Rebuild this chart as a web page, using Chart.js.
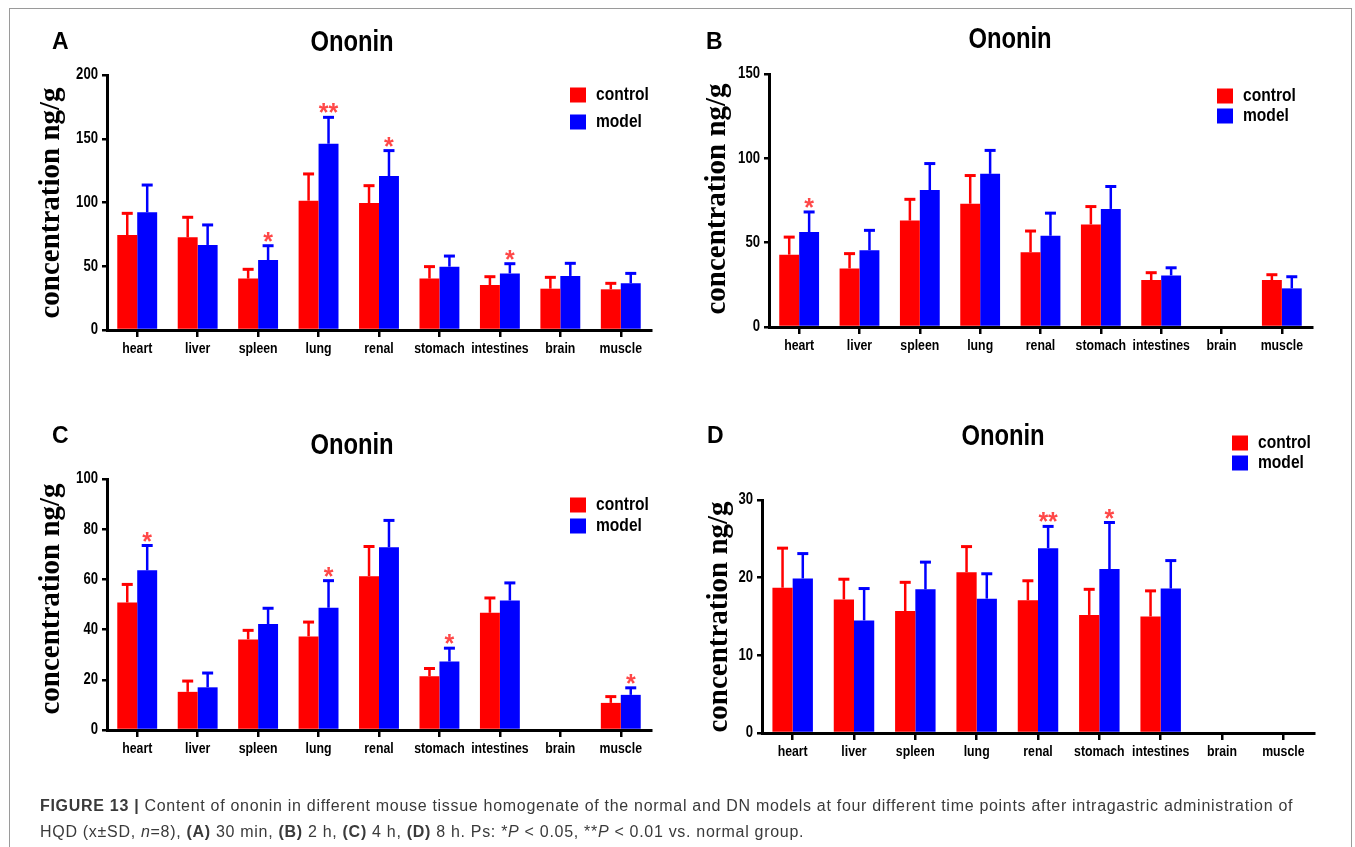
<!DOCTYPE html>
<html>
<head>
<meta charset="utf-8">
<script src="https://cdn.jsdelivr.net/npm/chart.js@4.4.1/dist/chart.umd.min.js"></script>
<style>
  body { margin: 0; background: #fff; }
  #wrap { position: relative; width: 1355px; height: 847px; overflow: hidden; background: #fff; }
  canvas { position: absolute; left: 0; top: 0; }
  #frame { position: absolute; left: 9px; top: 8px; width: 1341px; height: 900px; border: 1px solid #9a9a9a; }
  #caption { position: absolute; left: 40px; top: 793px; width: 1300px; font: 16px 'Liberation Sans', Arial, sans-serif; letter-spacing: 0.7px; color: #3a3a3a; line-height: 26px; white-space: nowrap; }
</style>
</head>
<body>
<div id="wrap">
  <div id="frame"></div>
  <canvas id="chartA" width="1355" height="847"></canvas>
  <canvas id="chartB" width="1355" height="847"></canvas>
  <canvas id="chartC" width="1355" height="847"></canvas>
  <canvas id="chartD" width="1355" height="847"></canvas>
  <div id="caption"><b>FIGURE 13 |</b> Content of ononin in different mouse tissue homogenate of the normal and DN models at four different time points after intragastric administration of<br>HQD (x±SD, <i>n</i>=8), <b>(A)</b> 30 min, <b>(B)</b> 2 h, <b>(C)</b> 4 h, <b>(D)</b> 8 h. Ps: *<i>P</i> &lt; 0.05, **<i>P</i> &lt; 0.01 vs. normal group.</div>
</div>
<script>
const tissues = ['heart', 'liver', 'spleen', 'lung', 'renal', 'stomach', 'intestines', 'brain', 'muscle']
const seriesNames = ['control', 'model']

// (A) 30 min
const aControl = [74.5, 72.7, 40.3, 101.4, 99.6, 40.3, 35.3, 32.4, 31.9]
const aControlTop = [91.5, 88.4, 47.6, 122.4, 113.2, 49.7, 41.8, 41.3, 36.6]
const aModel = [92.3, 66.7, 54.9, 146.1, 120.8, 49.7, 44.4, 42.4, 36.6]
const aModelTop = [113.7, 82.4, 66.1, 166.8, 140.7, 58.0, 52.0, 52.3, 44.4]
const aStars = ['', '', '*', '**', '*', '', '*', '', '']

// (B) 2 h
const bControl = [42.9, 34.7, 63.1, 73.1, 44.3, 60.8, 27.8, null, 27.8]
const bControlTop = [53.3, 43.5, 75.7, 89.8, 56.9, 71.4, 32.2, null, 31.0]
const bModel = [56.3, 45.5, 81.2, 90.8, 54.1, 70.0, 30.6, null, 22.9]
const bModelTop = [68.2, 57.3, 96.9, 104.7, 67.5, 83.3, 35.1, null, 29.8]
const bStars = ['*', '', '', '', '', '', '', '', '']

// (C) 4 h
const cControl = [50.8, 15.2, 36.1, 37.3, 61.3, 21.4, 46.7, null, 10.8]
const cControlTop = [58.0, 19.5, 39.7, 43.0, 73.1, 24.5, 52.6, null, 13.3]
const cModel = [63.6, 17.0, 42.2, 48.7, 72.8, 27.3, 51.6, null, 14.0]
const cModelTop = [73.5, 22.7, 48.5, 59.5, 83.5, 32.6, 58.6, null, 16.8]
const cStars = ['*', '', '', '*', '', '*', '', '', '*']

// (D) 8 h
const dControl = [18.7, 17.2, 15.7, 20.7, 17.1, 15.2, 15.0, null, null]
const dControlTop = [23.8, 19.8, 19.4, 24.0, 19.6, 18.5, 18.3, null, null]
const dModel = [19.9, 14.5, 18.5, 17.3, 23.8, 21.1, 18.6, null, null]
const dModelTop = [23.1, 18.6, 22.0, 20.5, 26.6, 27.1, 22.2, null, null]
const dStars = ['', '', '', '', '**', '*', '', '', '']

const yMaxes = [200, 150, 100, 30]
const ySteps = [50, 50, 20, 10]
const panelLetters = ['A', 'B', 'C', 'D']
const chartTitle = 'Ononin'
const yTitle = 'concentration ng/g'

const RED = '#ff0000'
const BLUE = '#0000ff'
const STAR = '#ff4848'
const SANS = "'Liberation Sans', Arial, sans-serif"
const NARROW_X = 0.82 // the original uses a condensed face, squeeze a normal one

// where each panel sits on the page
const layouts = [
  { area: { l: 107, r: 651, t: 75, b: 330 }, letter: [52, 43], title: [352, 43], legend: [570, 95, 122], ytitle: [52, 203] },
  { area: { l: 769, r: 1312, t: 74, b: 327 }, letter: [706, 43], title: [1010, 40], legend: [1217, 96, 116], ytitle: [718, 199] },
  { area: { l: 107, r: 651, t: 479, b: 730 }, letter: [52, 437], title: [352, 446], legend: [570, 505, 526], ytitle: [52, 599] },
  { area: { l: 762, r: 1314, t: 500, b: 733 }, letter: [707, 437], title: [1003, 437], legend: [1232, 443, 463], ytitle: [720, 617] },
]

const panelData = [
  [aControl, aControlTop, aModel, aModelTop, aStars],
  [bControl, bControlTop, bModel, bModelTop, bStars],
  [cControl, cControlTop, cModel, cModelTop, cStars],
  [dControl, dControlTop, dModel, dModelTop, dStars],
]

function narrowText (ctx, text, x, y, align) {
  ctx.save()
  ctx.translate(x, y)
  ctx.scale(NARROW_X, 1)
  ctx.textAlign = align
  ctx.fillText(text, 0, 0)
  ctx.restore()
}

const decorPlugin = {
  id: 'decor',
  afterDatasetsDraw (chart) {
    const ctx = chart.ctx
    const yScale = chart.scales.y
    ctx.save()
    chart.data.datasets.forEach(function (ds, di) {
      const meta = chart.getDatasetMeta(di)
      meta.data.forEach(function (bar, i) {
        if (ds.data[i] == null) return
        const top = yScale.getPixelForValue(ds.errTop[i])
        ctx.strokeStyle = ds.backgroundColor
        ctx.lineWidth = 2.5
        ctx.beginPath()
        ctx.moveTo(bar.x, bar.y)
        ctx.lineTo(bar.x, top)
        ctx.stroke()
        ctx.lineWidth = 3
        ctx.beginPath()
        ctx.moveTo(bar.x - 5.5, top)
        ctx.lineTo(bar.x + 5.5, top)
        ctx.stroke()
        const star = ds.stars ? ds.stars[i] : ''
        if (star) {
          ctx.fillStyle = STAR
          ctx.font = 'bold 25px ' + SANS
          ctx.textAlign = 'center'
          ctx.textBaseline = 'alphabetic'
          ctx.fillText(star, bar.x, top + 4)
        }
      })
    })
    ctx.restore()
  },
  afterDraw (chart, args, opts) {
    const ctx = chart.ctx
    const lay = opts.layout
    ctx.save()
    ctx.fillStyle = '#000'
    ctx.textBaseline = 'middle'

    // tick labels, placed by the chart's own scales
    const xs = chart.scales.x
    ctx.font = 'bold 15px ' + SANS
    xs.ticks.forEach(function (t, i) {
      narrowText(ctx, chart.data.labels[i], xs.getPixelForTick(i), lay.area.b + 19, 'center')
    })
    const ys = chart.scales.y
    ctx.font = 'bold 16px ' + SANS
    ys.ticks.forEach(function (t, i) {
      narrowText(ctx, String(t.value), lay.area.l - 9, ys.getPixelForTick(i), 'right')
    })

    ctx.font = 'bold 23px ' + SANS
    ctx.textAlign = 'left'
    ctx.fillText(opts.letter, lay.letter[0], lay.letter[1])

    ctx.font = 'bold 29px ' + SANS
    narrowText(ctx, chartTitle, lay.title[0], lay.title[1], 'center')

    const lg = lay.legend
    chart.data.datasets.forEach(function (ds, di) {
      const ly = lg[1 + di]
      ctx.fillStyle = ds.backgroundColor
      ctx.fillRect(lg[0], ly - 7.5, 16, 15)
      ctx.fillStyle = '#000'
      ctx.font = 'bold 19px ' + SANS
      narrowText(ctx, ds.label, lg[0] + 26, ly, 'left')
    })

    ctx.translate(lay.ytitle[0], lay.ytitle[1])
    ctx.rotate(-Math.PI / 2)
    ctx.font = "bold 29px 'Liberation Serif', 'Times New Roman', serif"
    ctx.textAlign = 'center'
    ctx.fillText(yTitle, 0, 0)
    ctx.restore()
  },
}

for (let p = 0; p < 4; p++) {
  const lay = layouts[p]
  const [ctrl, ctrlTop, mdl, mdlTop, stars] = panelData[p]
  const Y_W = 45
  const X_H = 30
  const config = {
    type: 'bar',
    data: {
      labels: tissues,
      datasets: [
        { label: seriesNames[0], data: ctrl, errTop: ctrlTop, backgroundColor: RED },
        { label: seriesNames[1], data: mdl, errTop: mdlTop, stars: stars, backgroundColor: BLUE },
      ],
    },
    options: {
      responsive: false,
      animation: false,
      devicePixelRatio: 1,
      categoryPercentage: 0.66,
      barPercentage: 1.0,
      layout: {
        autoPadding: false,
        padding: {
          left: lay.area.l - Y_W,
          right: 1355 - lay.area.r,
          top: lay.area.t,
          bottom: 847 - lay.area.b - X_H,
        },
      },
      plugins: {
        legend: { display: false },
        title: { display: false },
        tooltip: { enabled: false },
        decor: { layout: lay, letter: panelLetters[p] },
      },
      scales: {
        x: {
          afterFit: function (scale) { scale.height = X_H },
          grid: { display: true, drawOnChartArea: false, drawTicks: true, tickLength: 7, lineWidth: 2.5, color: '#000', offset: false },
          border: { display: true, width: 3, color: '#000' },
          ticks: { display: false, autoSkip: false, maxRotation: 0, minRotation: 0 },
        },
        y: {
          min: 0,
          max: yMaxes[p],
          afterFit: function (scale) { scale.width = Y_W },
          grid: { display: true, drawOnChartArea: false, drawTicks: true, tickLength: 5, lineWidth: 2.5, color: '#000' },
          border: { display: true, width: 3, color: '#000' },
          ticks: { display: false, stepSize: ySteps[p] },
        },
      },
    },
    plugins: [decorPlugin],
  }
  new Chart(document.getElementById('chart' + panelLetters[p]).getContext('2d'), config)
}
</script>
</body>
</html>
